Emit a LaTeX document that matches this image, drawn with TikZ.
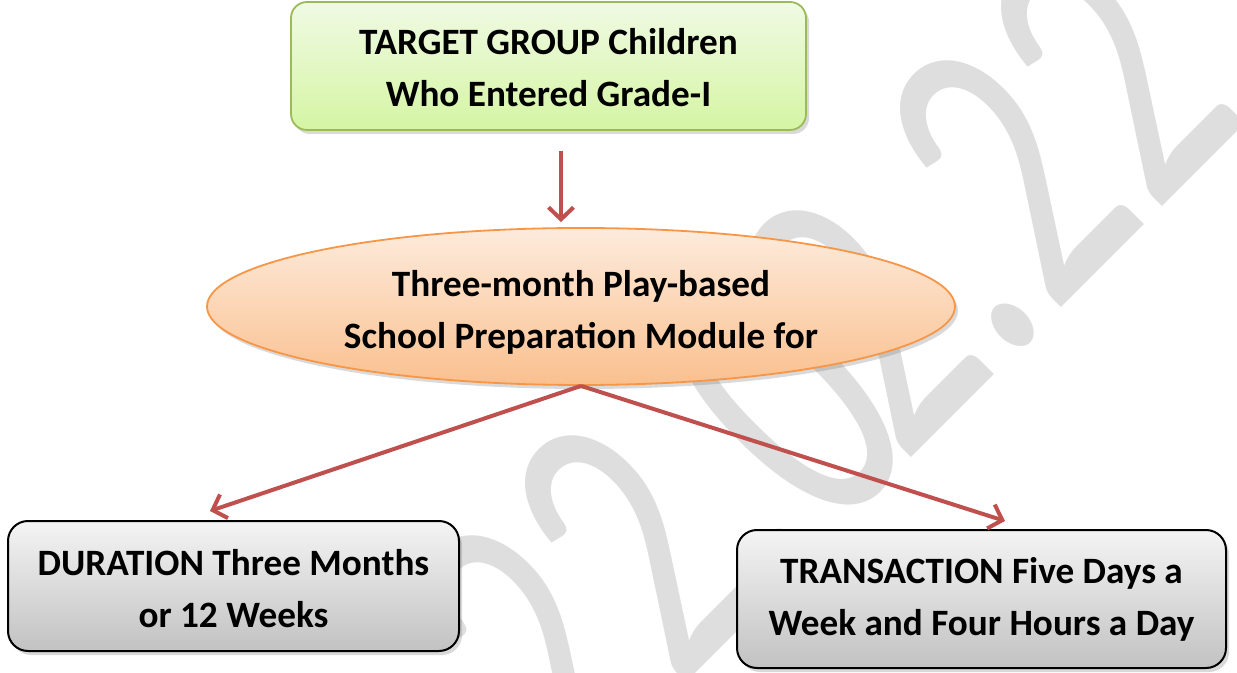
\documentclass[tikz,border=0pt]{standalone}
\usepackage{fontspec}
\setmainfont{Carlito}
\usetikzlibrary{shapes.geometric,shadows,arrows.meta,positioning}

\definecolor{linkred}{HTML}{C0504D}
\definecolor{greenline}{HTML}{9BBB59}
\definecolor{greentop}{HTML}{F0FAE4}
\definecolor{greenbot}{HTML}{D5F5A3}
\definecolor{peachline}{HTML}{F79646}
\definecolor{peachtop}{HTML}{FDEBDC}
\definecolor{peachbot}{HTML}{FAC08F}
\definecolor{greytop}{HTML}{F4F4F4}
\definecolor{greybot}{HTML}{C2C2C2}
\definecolor{stamp}{HTML}{DEDEDE}

\newcommand{\lift}[1]{\rule{0pt}{#1}}

\begin{document}
\begin{tikzpicture}[x=0.5pt,y=-0.5pt,
every node/.style={align=center,inner sep=0pt,font=\fontsize{18.6}{26}\selectfont\bfseries},
shade/.style={drop shadow={shadow xshift=1.5pt,shadow yshift=-2pt,opacity=0.3}},
topbox/.style={rectangle,rounded corners=8pt,draw=greenline,line width=0.9pt,top color=greentop,bottom color=greenbot,shade},
oval/.style={ellipse,draw=peachline,line width=0.9pt,top color=peachtop,bottom color=peachbot,shade},
leafbox/.style={rectangle,rounded corners=10pt,draw=black,line width=1pt,top color=greytop,bottom color=greybot,shade},
flow/.style={draw=linkred,line width=2pt,-{Straight Barb[length=6pt,width=12.5pt]}}]
\useasboundingbox (0,0) rectangle (1237,673);

% watermark behind everything
\begin{scope}[shift={(1254,115)}]
\node[font=\fontsize{140}{140}\selectfont,text=stamp,rotate=45,yscale=1.48,anchor=base east] (mark) at (0,0) {22.0\kern-0.13em2.22};
\end{scope}

\node[topbox,minimum width=257.5pt,minimum height=64pt] (target) at (548.5,66)
  {\lift{15pt}TARGET GROUP Children\\Who Entered Grade-I};
\node[oval,minimum width=374pt,minimum height=78.5pt] (module) at (581,306.5)
  {\lift{19pt}Three-month Play-based\\School Preparation Module for};
\node[leafbox,minimum width=225.5pt,minimum height=65pt] (duration) at (233.5,586)
  {\lift{16pt}DURATION Three Months\\or 12 Weeks};
\node[leafbox,minimum width=244.5pt,minimum height=69pt] (transaction) at (981.5,599)
  {TRANSACTION Five Days a\\Week and Four Hours a Day};

\draw[flow] ([shift={(12.5,20)}]target.south) -- ([shift={(-20,-5)}]module.north);
\draw[flow] (module.south) -- ([shift={(-23.5,-9)}]duration.north);
\draw[flow] (module.south) -- ([shift={(23.5,-8)}]transaction.north);
\end{tikzpicture}
\end{document}
